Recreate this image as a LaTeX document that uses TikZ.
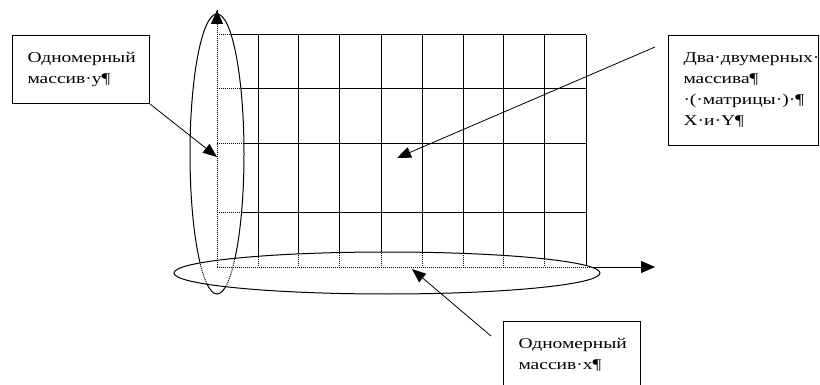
\documentclass[tikz,border=0pt]{standalone}
\usepackage{fontspec}
\setmainfont{Liberation Serif}[FakeStretch=1.3]
\usetikzlibrary{arrows.meta}
\tikzset{
  gridline/.style={line width=1pt},
  dotline/.style={line width=1pt, dash pattern=on 1pt off 1pt},
  ellline/.style={line width=1pt},
  tipped/.style={-{Triangle[length=14pt,width=12pt]}},
  callout/.style={line width=0.8pt, -{Triangle[length=14pt,width=11pt]}},
  callbox/.style={draw, line width=1pt, anchor=north west, align=left,
    inner xsep=15pt, inner ysep=0pt, font=\fontsize{15}{21}\selectfont}
}
\begin{document}
\begin{tikzpicture}[x=1pt,y=-1pt]
\useasboundingbox (0,0) rectangle (820,385);
% key points
\coordinate (O) at (217,267);
\coordinate (ytip) at (217,10);
\coordinate (xtip) at (655,267);
\coordinate (vc) at (217,154);
\coordinate (hc) at (387,273);
% solid grid
\foreach \y in {35,89,144,213} \draw[gridline] (217,\y) -- (586,\y);
\foreach \x in {258,298,339,381,422,463,503,544,586} \draw[gridline] (\x,35) -- (\x,267);
\draw[gridline] (O) -- (ytip);
\draw[gridline, tipped] (O) -- (xtip);
% vertical ellipse
\fill[white] (vc) ellipse [x radius=27pt, y radius=140pt];
\begin{scope}
  \clip (vc) ellipse [x radius=27pt, y radius=140pt];
  \foreach \y in {35,89,144,213} \draw[dotline] (217,\y) -- (586,\y);
  \draw[dotline] (O) -- (ytip);
\end{scope}
\draw[ellline] (vc) ellipse [x radius=27pt, y radius=140pt];
% horizontal ellipse
\fill[white] (hc) ellipse [x radius=213pt, y radius=21pt];
\begin{scope}
  \clip (hc) ellipse [x radius=213pt, y radius=21pt];
  \foreach \x in {258,298,339,381,422,463,503,544,586} \draw[dotline] (\x,35) -- (\x,267);
  \draw[dotline] (O) -- (xtip);
  \draw[dotline] (O) -- (ytip);
  \draw[dotline] (vc) ellipse [x radius=27pt, y radius=140pt];
\end{scope}
\draw[ellline] (hc) ellipse [x radius=213pt, y radius=21pt];
% vertical axis arrow tip
\coordinate (ytipbase) at (217,25);
\draw[gridline, tipped] (ytipbase) -- (ytip);
% boxes
\node[callbox, text width=107pt, minimum height=68pt] (box1) at (12,35)
  {Одномерный\\массив·у¶};
\node[callbox, text width=120pt, minimum height=110pt] (box2) at (668,35)
  {Два·двумерных·\\массива¶\\·(·матрицы·)·¶\\X·и·Y¶};
\node[callbox, text width=107pt, minimum height=66pt] (box3) at (503,321)
  {Одномерный\\массив·х¶};
% callouts
\coordinate (t1) at (217,157);
\coordinate (s2) at (655,47);
\coordinate (t2) at (397,158);
\coordinate (s3) at (491,336);
\coordinate (t3) at (412,269);
\draw[callout] (box1.south east) -- (t1);
\draw[callout] (s2) -- (t2);
\draw[callout] (s3) -- (t3);
\end{tikzpicture}
\end{document}
